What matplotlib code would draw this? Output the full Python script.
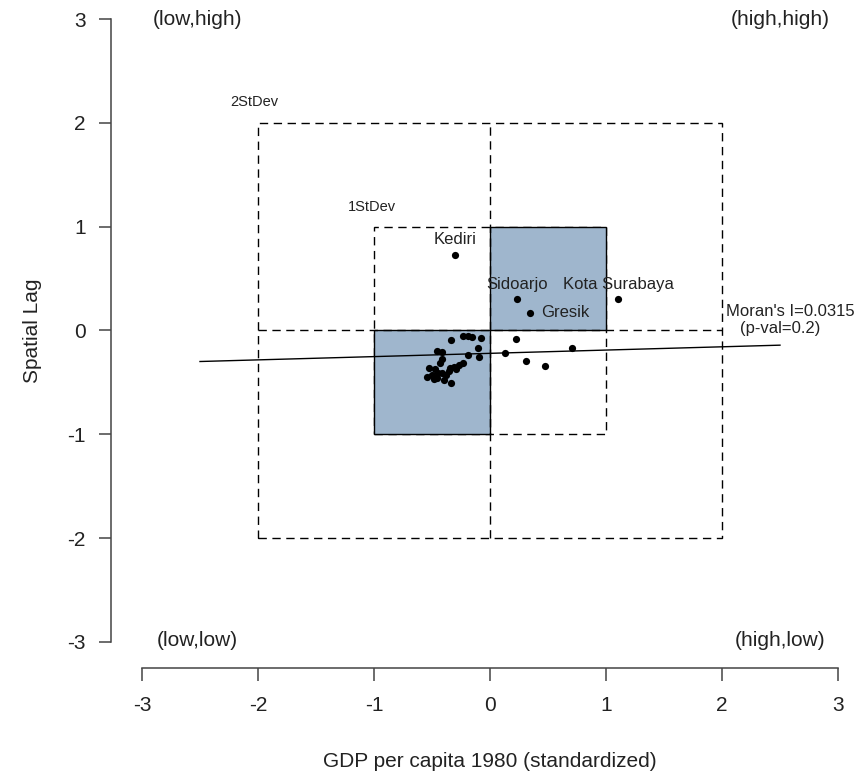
import matplotlib
matplotlib.use("Agg")
import matplotlib.pyplot as plt
from matplotlib.patches import Rectangle

plt.rcParams['font.family'] = ['Liberation Sans', 'DejaVu Sans']

# ---- data (standardized GDP per capita 1980 vs spatial lag) ----
gdp_z = [-0.30, 0.23, 0.345, 1.105,
         0.225, 0.13, 0.31, 0.475, 0.71,
         -0.34, -0.23, -0.19, -0.155, -0.08, -0.10, -0.095, -0.19, -0.23, -0.27,
         -0.46, -0.41, -0.41, -0.53, -0.475, -0.345, -0.31, -0.50, -0.485, -0.545,
         -0.45, -0.415, -0.38, -0.355, -0.34, -0.46, -0.40, -0.29, -0.43]
lag_z = [0.73, 0.30, 0.17, 0.30,
         -0.08, -0.22, -0.29, -0.34, -0.165,
         -0.09, -0.05, -0.05, -0.06, -0.07, -0.17, -0.26, -0.24, -0.31, -0.33,
         -0.20, -0.21, -0.27, -0.36, -0.37, -0.36, -0.35, -0.43, -0.47, -0.45,
         -0.41, -0.41, -0.43, -0.39, -0.51, -0.46, -0.48, -0.37, -0.31]
labels_above = ["Kediri", "Sidoarjo", "Kota Surabaya"]
labels_above_idx = [0, 1, 3]
label_right = "Gresik"
label_right_idx = 2

morans_i = 0.0315
p_val = 0.2
reg_intercept = -0.22
reg_slope = 0.0315
reg_x = [-2.5, 2.5]

ticks = [-3, -2, -1, 0, 1, 2, 3]
quad_labels = ["(low,high)", "(high,high)", "(low,low)", "(high,low)"]
quad_x = [-2.52, 2.50, -2.52, 2.50]
quad_y = [3.0, 3.0, -2.99, -2.99]

fill_color = "#9FB6CD"

W, H, DPI = 860, 777, 100
fig = plt.figure(figsize=(W / DPI, H / DPI), dpi=DPI)

# axes placement in pixels (R-like detached axes)
x0_px, y_axis_px = 490.0, 330.5
sx, sy = 116.0, 103.8
xlim = (-3.27, 3.27)
ylim = (-3.25, 3.25)
left_px = x0_px + xlim[0] * sx
bottom_px = y_axis_px - ylim[0] * sy
ax = fig.add_axes([left_px / W, (H - bottom_px) / H,
                   (xlim[1] - xlim[0]) * sx / W, (ylim[1] - ylim[0]) * sy / H])
ax.set_xlim(*xlim)
ax.set_ylim(*ylim)

for s in ['top', 'right']:
    ax.spines[s].set_visible(False)
for s in ['left', 'bottom']:
    ax.spines[s].set_bounds(-3, 3)
    ax.spines[s].set_color('#444444')
    ax.spines[s].set_linewidth(1.1)

ax.set_xticks(ticks)
ax.set_yticks(ticks)
ax.set_xticklabels([str(t) for t in ticks])
ax.set_yticklabels([str(t) for t in ticks])
ax.tick_params(axis='both', length=9, width=1.1, color='#444444',
               labelsize=15, labelcolor='#222222')
ax.tick_params(axis='x', pad=11)
ax.tick_params(axis='y', pad=9)

ax.set_xlabel("GDP per capita 1980 (standardized)", fontsize=15, color='#222222', labelpad=27)
ax.set_ylabel("Spatial Lag", fontsize=15, color='#222222', labelpad=18)

dash = (0, (6, 4))
# 2 SD box and cross
ax.add_patch(Rectangle((-2, -2), 4, 4, fill=False, edgecolor='black', lw=1.0, linestyle=dash))
ax.add_patch(Rectangle((-1, -1), 2, 2, fill=False, edgecolor='black', lw=1.0, linestyle=dash))
ax.plot([0, 0], [-2, 2], color='black', lw=1.0, linestyle=dash)
ax.plot([-2, 2], [0, 0], color='black', lw=1.0, linestyle=dash)

# filled quadrants
ax.add_patch(Rectangle((0, 0), 1, 1, facecolor=fill_color, edgecolor='black', lw=1.0))
ax.add_patch(Rectangle((-1, -1), 1, 1, facecolor=fill_color, edgecolor='black', lw=1.0))

ax.text(-2.03, 2.2, "2StDev", fontsize=10.5, ha='center', va='center', color='#222222')
ax.text(-1.02, 1.19, "1StDev", fontsize=10.5, ha='center', va='center', color='#222222')

for t, qx, qy in zip(quad_labels, quad_x, quad_y):
    ax.text(qx, qy, t, fontsize=15, ha='center', va='center', color='#222222')

# regression line
reg_y = [reg_intercept + reg_slope * v for v in reg_x]
ax.plot(reg_x, reg_y, color='black', lw=1.0)

# points
ax.plot(gdp_z, lag_z, 'o', color='black', markersize=5.2, markeredgewidth=0)

for name, i in zip(labels_above, labels_above_idx):
    ax.annotate(name, (gdp_z[i], lag_z[i]), xytext=(0, 11), textcoords='offset points',
                ha='center', va='center', fontsize=12, color='#222222')
ax.annotate(label_right, (gdp_z[label_right_idx], lag_z[label_right_idx]), xytext=(8, 0),
            textcoords='offset points', ha='left', va='center', fontsize=12, color='#222222')

ax.text(2.59, 0.18, "Moran's I=%s" % morans_i, fontsize=12, ha='center', va='center', color='#222222')
ax.text(2.50, 0.015, "(p-val=%s)" % p_val, fontsize=12, ha='center', va='center', color='#222222')

fig.savefig("out.png", dpi=DPI)
